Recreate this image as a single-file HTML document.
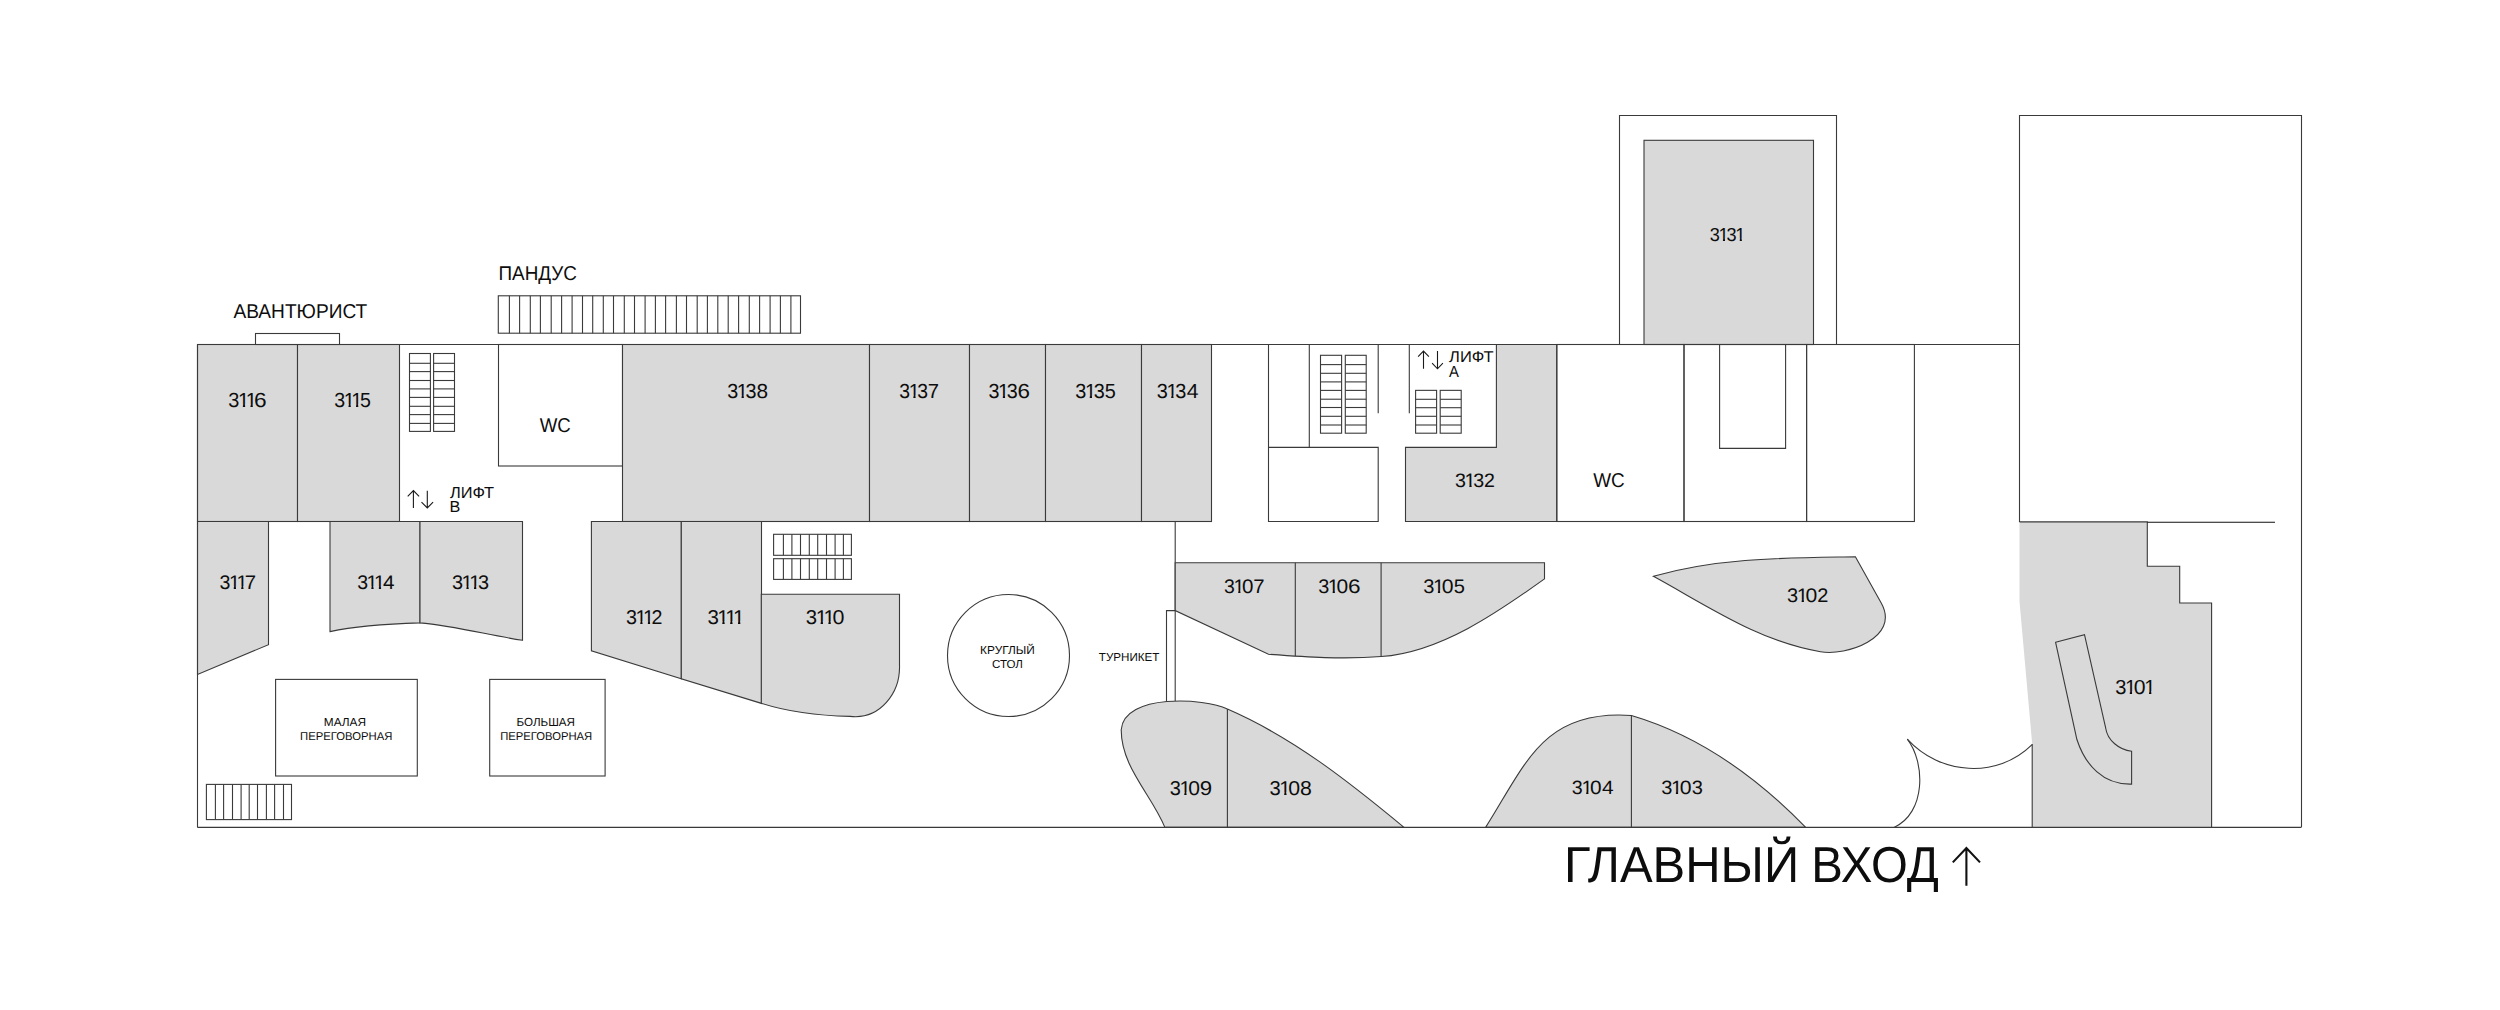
<!DOCTYPE html>
<html><head><meta charset="utf-8"><title>План этажа</title>
<style>html,body{margin:0;padding:0;background:#fff;}svg{display:block;}</style></head>
<body><svg width="2500" height="1010" viewBox="0 0 2500 1010">
<rect width="2500" height="1010" fill="#fff"/>
<defs><clipPath id="c3116_1" clipPathUnits="userSpaceOnUse"><path d="M-5,-40 L20,-40 L20,-2.502 L7.215,-2.502 L7.215,5 L4.903,5 L4.903,-2.502 L-5,-2.502 Z"/></clipPath><clipPath id="c3116_2" clipPathUnits="userSpaceOnUse"><path d="M-5,-40 L20,-40 L20,-2.502 L7.215,-2.502 L7.215,5 L4.903,5 L4.903,-2.502 L-5,-2.502 Z"/></clipPath><clipPath id="c3115_1" clipPathUnits="userSpaceOnUse"><path d="M-5,-40 L20,-40 L20,-2.502 L7.215,-2.502 L7.215,5 L4.903,5 L4.903,-2.502 L-5,-2.502 Z"/></clipPath><clipPath id="c3115_2" clipPathUnits="userSpaceOnUse"><path d="M-5,-40 L20,-40 L20,-2.502 L7.215,-2.502 L7.215,5 L4.903,5 L4.903,-2.502 L-5,-2.502 Z"/></clipPath><clipPath id="c3138_1" clipPathUnits="userSpaceOnUse"><path d="M-5,-40 L20,-40 L20,-2.484 L7.164,-2.484 L7.164,5 L4.869,5 L4.869,-2.484 L-5,-2.484 Z"/></clipPath><clipPath id="c3137_1" clipPathUnits="userSpaceOnUse"><path d="M-5,-40 L20,-40 L20,-2.484 L7.164,-2.484 L7.164,5 L4.869,5 L4.869,-2.484 L-5,-2.484 Z"/></clipPath><clipPath id="c3136_1" clipPathUnits="userSpaceOnUse"><path d="M-5,-40 L20,-40 L20,-2.484 L7.164,-2.484 L7.164,5 L4.869,5 L4.869,-2.484 L-5,-2.484 Z"/></clipPath><clipPath id="c3135_1" clipPathUnits="userSpaceOnUse"><path d="M-5,-40 L20,-40 L20,-2.484 L7.164,-2.484 L7.164,5 L4.869,5 L4.869,-2.484 L-5,-2.484 Z"/></clipPath><clipPath id="c3134_1" clipPathUnits="userSpaceOnUse"><path d="M-5,-40 L20,-40 L20,-2.484 L7.164,-2.484 L7.164,5 L4.869,5 L4.869,-2.484 L-5,-2.484 Z"/></clipPath><clipPath id="c3131_1" clipPathUnits="userSpaceOnUse"><path d="M-5,-40 L20,-40 L20,-2.289 L6.601,-2.289 L6.601,5 L4.486,5 L4.486,-2.289 L-5,-2.289 Z"/></clipPath><clipPath id="c3131_3" clipPathUnits="userSpaceOnUse"><path d="M-5,-40 L20,-40 L20,-2.289 L6.601,-2.289 L6.601,5 L4.486,5 L4.486,-2.289 L-5,-2.289 Z"/></clipPath><clipPath id="c3132_1" clipPathUnits="userSpaceOnUse"><path d="M-5,-40 L20,-40 L20,-2.378 L6.857,-2.378 L6.857,5 L4.660,5 L4.660,-2.378 L-5,-2.378 Z"/></clipPath><clipPath id="c3117_1" clipPathUnits="userSpaceOnUse"><path d="M-5,-40 L20,-40 L20,-2.413 L6.959,-2.413 L6.959,5 L4.730,5 L4.730,-2.413 L-5,-2.413 Z"/></clipPath><clipPath id="c3117_2" clipPathUnits="userSpaceOnUse"><path d="M-5,-40 L20,-40 L20,-2.413 L6.959,-2.413 L6.959,5 L4.730,5 L4.730,-2.413 L-5,-2.413 Z"/></clipPath><clipPath id="c3114_1" clipPathUnits="userSpaceOnUse"><path d="M-5,-40 L20,-40 L20,-2.413 L6.959,-2.413 L6.959,5 L4.730,5 L4.730,-2.413 L-5,-2.413 Z"/></clipPath><clipPath id="c3114_2" clipPathUnits="userSpaceOnUse"><path d="M-5,-40 L20,-40 L20,-2.413 L6.959,-2.413 L6.959,5 L4.730,5 L4.730,-2.413 L-5,-2.413 Z"/></clipPath><clipPath id="c3113_1" clipPathUnits="userSpaceOnUse"><path d="M-5,-40 L20,-40 L20,-2.413 L6.959,-2.413 L6.959,5 L4.730,5 L4.730,-2.413 L-5,-2.413 Z"/></clipPath><clipPath id="c3113_2" clipPathUnits="userSpaceOnUse"><path d="M-5,-40 L20,-40 L20,-2.413 L6.959,-2.413 L6.959,5 L4.730,5 L4.730,-2.413 L-5,-2.413 Z"/></clipPath><clipPath id="c3112_1" clipPathUnits="userSpaceOnUse"><path d="M-5,-40 L20,-40 L20,-2.431 L7.010,-2.431 L7.010,5 L4.764,5 L4.764,-2.431 L-5,-2.431 Z"/></clipPath><clipPath id="c3112_2" clipPathUnits="userSpaceOnUse"><path d="M-5,-40 L20,-40 L20,-2.431 L7.010,-2.431 L7.010,5 L4.764,5 L4.764,-2.431 L-5,-2.431 Z"/></clipPath><clipPath id="c3111_1" clipPathUnits="userSpaceOnUse"><path d="M-5,-40 L20,-40 L20,-2.431 L7.010,-2.431 L7.010,5 L4.764,5 L4.764,-2.431 L-5,-2.431 Z"/></clipPath><clipPath id="c3111_2" clipPathUnits="userSpaceOnUse"><path d="M-5,-40 L20,-40 L20,-2.431 L7.010,-2.431 L7.010,5 L4.764,5 L4.764,-2.431 L-5,-2.431 Z"/></clipPath><clipPath id="c3111_3" clipPathUnits="userSpaceOnUse"><path d="M-5,-40 L20,-40 L20,-2.431 L7.010,-2.431 L7.010,5 L4.764,5 L4.764,-2.431 L-5,-2.431 Z"/></clipPath><clipPath id="c3110_1" clipPathUnits="userSpaceOnUse"><path d="M-5,-40 L20,-40 L20,-2.431 L7.010,-2.431 L7.010,5 L4.764,5 L4.764,-2.431 L-5,-2.431 Z"/></clipPath><clipPath id="c3110_2" clipPathUnits="userSpaceOnUse"><path d="M-5,-40 L20,-40 L20,-2.431 L7.010,-2.431 L7.010,5 L4.764,5 L4.764,-2.431 L-5,-2.431 Z"/></clipPath><clipPath id="c3107_1" clipPathUnits="userSpaceOnUse"><path d="M-5,-40 L20,-40 L20,-2.395 L6.908,-2.395 L6.908,5 L4.695,5 L4.695,-2.395 L-5,-2.395 Z"/></clipPath><clipPath id="c3106_1" clipPathUnits="userSpaceOnUse"><path d="M-5,-40 L20,-40 L20,-2.395 L6.908,-2.395 L6.908,5 L4.695,5 L4.695,-2.395 L-5,-2.395 Z"/></clipPath><clipPath id="c3105_1" clipPathUnits="userSpaceOnUse"><path d="M-5,-40 L20,-40 L20,-2.395 L6.908,-2.395 L6.908,5 L4.695,5 L4.695,-2.395 L-5,-2.395 Z"/></clipPath><clipPath id="c3102_1" clipPathUnits="userSpaceOnUse"><path d="M-5,-40 L20,-40 L20,-2.395 L6.908,-2.395 L6.908,5 L4.695,5 L4.695,-2.395 L-5,-2.395 Z"/></clipPath><clipPath id="c3101_1" clipPathUnits="userSpaceOnUse"><path d="M-5,-40 L20,-40 L20,-2.466 L7.113,-2.466 L7.113,5 L4.834,5 L4.834,-2.466 L-5,-2.466 Z"/></clipPath><clipPath id="c3101_3" clipPathUnits="userSpaceOnUse"><path d="M-5,-40 L20,-40 L20,-2.466 L7.113,-2.466 L7.113,5 L4.834,5 L4.834,-2.466 L-5,-2.466 Z"/></clipPath><clipPath id="c3109_1" clipPathUnits="userSpaceOnUse"><path d="M-5,-40 L20,-40 L20,-2.449 L7.062,-2.449 L7.062,5 L4.799,5 L4.799,-2.449 L-5,-2.449 Z"/></clipPath><clipPath id="c3108_1" clipPathUnits="userSpaceOnUse"><path d="M-5,-40 L20,-40 L20,-2.449 L7.062,-2.449 L7.062,5 L4.799,5 L4.799,-2.449 L-5,-2.449 Z"/></clipPath><clipPath id="c3104_1" clipPathUnits="userSpaceOnUse"><path d="M-5,-40 L20,-40 L20,-2.342 L6.755,-2.342 L6.755,5 L4.590,5 L4.590,-2.342 L-5,-2.342 Z"/></clipPath><clipPath id="c3103_1" clipPathUnits="userSpaceOnUse"><path d="M-5,-40 L20,-40 L20,-2.342 L6.755,-2.342 L6.755,5 L4.590,5 L4.590,-2.342 L-5,-2.342 Z"/></clipPath></defs>
<g stroke="#3a3a3a" stroke-width="1.1" fill="none">
<path d="M2019.5,521.9 L2019.5,115.5 L2301.5,115.5 L2301.5,827" fill="none"/>
<path d="M1619.5,344.5 L1619.5,115.5 L1836.5,115.5 L1836.5,344.5" fill="none"/>
<rect x="1644" y="140.3" width="169.5" height="204.2" fill="#d9d9d9"/>
<rect x="197.5" y="344.5" width="100" height="177" fill="#d9d9d9"/>
<rect x="297.5" y="344.5" width="102" height="177" fill="#d9d9d9"/>
<rect x="255.5" y="333.5" width="84" height="11" fill="#fff"/>
<rect x="409.5" y="353.5" width="20.9" height="77.9" fill="#fff"/>
<line x1="409.5" y1="363.3" x2="430.4" y2="363.3"/>
<line x1="409.5" y1="371.6" x2="430.4" y2="371.6"/>
<line x1="409.5" y1="380.5" x2="430.4" y2="380.5"/>
<line x1="409.5" y1="388.9" x2="430.4" y2="388.9"/>
<line x1="409.5" y1="397.4" x2="430.4" y2="397.4"/>
<line x1="409.5" y1="406.3" x2="430.4" y2="406.3"/>
<line x1="409.5" y1="414.6" x2="430.4" y2="414.6"/>
<line x1="409.5" y1="423.4" x2="430.4" y2="423.4"/>
<rect x="433.6" y="353.5" width="20.9" height="77.9" fill="#fff"/>
<line x1="433.6" y1="363.3" x2="454.5" y2="363.3"/>
<line x1="433.6" y1="371.6" x2="454.5" y2="371.6"/>
<line x1="433.6" y1="380.5" x2="454.5" y2="380.5"/>
<line x1="433.6" y1="388.9" x2="454.5" y2="388.9"/>
<line x1="433.6" y1="397.4" x2="454.5" y2="397.4"/>
<line x1="433.6" y1="406.3" x2="454.5" y2="406.3"/>
<line x1="433.6" y1="414.6" x2="454.5" y2="414.6"/>
<line x1="433.6" y1="423.4" x2="454.5" y2="423.4"/>
<rect x="498.5" y="344.5" width="124" height="121.5" fill="none"/>
<rect x="498.3" y="295.8" width="302.2" height="37.4" fill="#fff"/>
<line x1="509.4" y1="295.8" x2="509.4" y2="333.2"/>
<line x1="519.6" y1="295.8" x2="519.6" y2="333.2"/>
<line x1="530.3" y1="295.8" x2="530.3" y2="333.2"/>
<line x1="540.4" y1="295.8" x2="540.4" y2="333.2"/>
<line x1="551.2" y1="295.8" x2="551.2" y2="333.2"/>
<line x1="561.6" y1="295.8" x2="561.6" y2="333.2"/>
<line x1="572.1" y1="295.8" x2="572.1" y2="333.2"/>
<line x1="582.5" y1="295.8" x2="582.5" y2="333.2"/>
<line x1="592.7" y1="295.8" x2="592.7" y2="333.2"/>
<line x1="603.3" y1="295.8" x2="603.3" y2="333.2"/>
<line x1="613.5" y1="295.8" x2="613.5" y2="333.2"/>
<line x1="624.3" y1="295.8" x2="624.3" y2="333.2"/>
<line x1="634.5" y1="295.8" x2="634.5" y2="333.2"/>
<line x1="645.1" y1="295.8" x2="645.1" y2="333.2"/>
<line x1="655.4" y1="295.8" x2="655.4" y2="333.2"/>
<line x1="665.6" y1="295.8" x2="665.6" y2="333.2"/>
<line x1="676.4" y1="295.8" x2="676.4" y2="333.2"/>
<line x1="686.5" y1="295.8" x2="686.5" y2="333.2"/>
<line x1="697.2" y1="295.8" x2="697.2" y2="333.2"/>
<line x1="707.4" y1="295.8" x2="707.4" y2="333.2"/>
<line x1="717.8" y1="295.8" x2="717.8" y2="333.2"/>
<line x1="728.2" y1="295.8" x2="728.2" y2="333.2"/>
<line x1="738.6" y1="295.8" x2="738.6" y2="333.2"/>
<line x1="749.3" y1="295.8" x2="749.3" y2="333.2"/>
<line x1="759.6" y1="295.8" x2="759.6" y2="333.2"/>
<line x1="770.1" y1="295.8" x2="770.1" y2="333.2"/>
<line x1="780.4" y1="295.8" x2="780.4" y2="333.2"/>
<line x1="790.9" y1="295.8" x2="790.9" y2="333.2"/>
<rect x="622.5" y="344.5" width="247" height="177" fill="#d9d9d9"/>
<rect x="869.5" y="344.5" width="100" height="177" fill="#d9d9d9"/>
<rect x="969.5" y="344.5" width="76" height="177" fill="#d9d9d9"/>
<rect x="1045.5" y="344.5" width="96" height="177" fill="#d9d9d9"/>
<rect x="1141.5" y="344.5" width="70" height="177" fill="#d9d9d9"/>
<path d="M1268.5,344.5 L1268.5,521.5 L1378.2,521.5 L1378.2,447.4 L1268.5,447.4" fill="none"/>
<line x1="1309.3" y1="344.5" x2="1309.3" y2="447.4"/>
<line x1="1378.2" y1="344.5" x2="1378.2" y2="413.2"/>
<line x1="1409.3" y1="344.5" x2="1409.3" y2="413.2"/>
<rect x="1320.5" y="355.3" width="21.1" height="77.9" fill="#fff"/>
<line x1="1320.5" y1="364.6" x2="1341.6" y2="364.6"/>
<line x1="1320.5" y1="373.3" x2="1341.6" y2="373.3"/>
<line x1="1320.5" y1="381.9" x2="1341.6" y2="381.9"/>
<line x1="1320.5" y1="390.4" x2="1341.6" y2="390.4"/>
<line x1="1320.5" y1="399.2" x2="1341.6" y2="399.2"/>
<line x1="1320.5" y1="407.5" x2="1341.6" y2="407.5"/>
<line x1="1320.5" y1="416.3" x2="1341.6" y2="416.3"/>
<line x1="1320.5" y1="425" x2="1341.6" y2="425"/>
<rect x="1345.3" y="355.3" width="20.9" height="77.9" fill="#fff"/>
<line x1="1345.3" y1="364.6" x2="1366.2" y2="364.6"/>
<line x1="1345.3" y1="373.3" x2="1366.2" y2="373.3"/>
<line x1="1345.3" y1="381.9" x2="1366.2" y2="381.9"/>
<line x1="1345.3" y1="390.4" x2="1366.2" y2="390.4"/>
<line x1="1345.3" y1="399.2" x2="1366.2" y2="399.2"/>
<line x1="1345.3" y1="407.5" x2="1366.2" y2="407.5"/>
<line x1="1345.3" y1="416.3" x2="1366.2" y2="416.3"/>
<line x1="1345.3" y1="425" x2="1366.2" y2="425"/>
<polygon points="1496.4,344.5 1556.8,344.5 1556.8,521.5 1405.5,521.5 1405.5,447.4 1496.4,447.4" fill="#d9d9d9"/>
<rect x="1415.6" y="390.35" width="21" height="42.85" fill="#fff"/>
<line x1="1415.6" y1="399.3" x2="1436.6" y2="399.3"/>
<line x1="1415.6" y1="407.7" x2="1436.6" y2="407.7"/>
<line x1="1415.6" y1="416.3" x2="1436.6" y2="416.3"/>
<line x1="1415.6" y1="425" x2="1436.6" y2="425"/>
<rect x="1440.2" y="390.35" width="21" height="42.85" fill="#fff"/>
<line x1="1440.2" y1="399.3" x2="1461.2" y2="399.3"/>
<line x1="1440.2" y1="407.7" x2="1461.2" y2="407.7"/>
<line x1="1440.2" y1="416.3" x2="1461.2" y2="416.3"/>
<line x1="1440.2" y1="425" x2="1461.2" y2="425"/>
<rect x="1556.8" y="344.5" width="127.2" height="177" fill="none"/>
<rect x="1684" y="344.5" width="122.6" height="177" fill="none"/>
<rect x="1806.6" y="344.5" width="107.8" height="177" fill="none"/>
<path d="M1719.6,344.5 L1719.6,448.4 L1785.6,448.4 L1785.6,344.5" fill="none"/>
<polygon points="197.5,521.5 268.5,521.5 268.5,644.7 197.5,674.4" fill="#d9d9d9"/>
<path d="M330,521.5 L420,521.5 L420,622.9 C389.91,623.74 359.53,625.13 330.00,631.60 Z" fill="#d9d9d9"/>
<path d="M420,521.5 L522.5,521.5 L522.5,640.3 C488.23,635.03 454.60,625.94 420.00,622.90 Z" fill="#d9d9d9"/>
<rect x="275.6" y="679.4" width="141.7" height="96.6" fill="#fff"/>
<rect x="489.7" y="679.4" width="115.4" height="96.6" fill="#fff"/>
<rect x="206.4" y="784.4" width="85.1" height="35.2" fill="#fff"/>
<line x1="215.4" y1="784.4" x2="215.4" y2="819.6"/>
<line x1="223.6" y1="784.4" x2="223.6" y2="819.6"/>
<line x1="232.5" y1="784.4" x2="232.5" y2="819.6"/>
<line x1="241.1" y1="784.4" x2="241.1" y2="819.6"/>
<line x1="249.2" y1="784.4" x2="249.2" y2="819.6"/>
<line x1="257.5" y1="784.4" x2="257.5" y2="819.6"/>
<line x1="266.4" y1="784.4" x2="266.4" y2="819.6"/>
<line x1="274.6" y1="784.4" x2="274.6" y2="819.6"/>
<line x1="283.5" y1="784.4" x2="283.5" y2="819.6"/>
<polygon points="591.4,521.5 681.3,521.5 681.3,678.8 591.4,650.8" fill="#d9d9d9"/>
<polygon points="681.3,521.5 761.5,521.5 761.5,703.4 681.3,678.8" fill="#d9d9d9"/>
<path d="M761.3,594.3 L899.5,594.3 L899.5,665 C900.50,692.89 880.06,719.90 850.00,716.40 C820.06,715.70 789.93,712.56 761.30,703.30 Z" fill="#d9d9d9"/>
<rect x="773.6" y="534.3" width="77.8" height="21" fill="#fff"/>
<line x1="783.4" y1="534.3" x2="783.4" y2="555.3"/>
<line x1="791.9" y1="534.3" x2="791.9" y2="555.3"/>
<line x1="800.5" y1="534.3" x2="800.5" y2="555.3"/>
<line x1="809.3" y1="534.3" x2="809.3" y2="555.3"/>
<line x1="817.7" y1="534.3" x2="817.7" y2="555.3"/>
<line x1="826.5" y1="534.3" x2="826.5" y2="555.3"/>
<line x1="835.1" y1="534.3" x2="835.1" y2="555.3"/>
<line x1="843.4" y1="534.3" x2="843.4" y2="555.3"/>
<rect x="773.6" y="558.7" width="77.8" height="20.7" fill="#fff"/>
<line x1="783.4" y1="558.7" x2="783.4" y2="579.4"/>
<line x1="791.9" y1="558.7" x2="791.9" y2="579.4"/>
<line x1="800.5" y1="558.7" x2="800.5" y2="579.4"/>
<line x1="809.3" y1="558.7" x2="809.3" y2="579.4"/>
<line x1="817.7" y1="558.7" x2="817.7" y2="579.4"/>
<line x1="826.5" y1="558.7" x2="826.5" y2="579.4"/>
<line x1="835.1" y1="558.7" x2="835.1" y2="579.4"/>
<line x1="843.4" y1="558.7" x2="843.4" y2="579.4"/>
<circle cx="1008.5" cy="655.5" r="61" fill="#fff"/>
<line x1="1175.2" y1="521.5" x2="1175.2" y2="701.5"/>
<path d="M1166.5,702 L1166.5,610.6 L1175.2,610.6" fill="none"/>
<path d="M1175.2,562.8 L1544.5,562.8 L1544.5,578.9 C1498.08,612.14 1440.09,652.51 1381.30,656.50 C1343.68,659.63 1306.10,657.04 1268.50,654.30 L1175.2,610.6 Z" fill="#d9d9d9"/>
<line x1="1295.3" y1="562.8" x2="1295.3" y2="656.1"/>
<line x1="1381.1" y1="562.8" x2="1381.1" y2="656.6"/>
<path d="M1653.4,576.3 C1718.68,557.38 1787.93,557.91 1855.40,556.70 L1881.5,603.5 C1900.27,638.15 1845.77,656.33 1820.50,651.70 C1758.91,641.55 1707.05,605.49 1653.40,576.30 Z" fill="#d9d9d9"/>
<path d="M1164.9,827.4 C1151.58,794.75 1121.16,766.98 1121.20,729.70 C1124.25,693.38 1204.65,697.82 1227.40,709.10  C1292.92,737.38 1349.47,782.22 1404.00,827.40 Z" fill="#d9d9d9"/>
<line x1="1227.4" y1="709.1" x2="1227.4" y2="827.4"/>
<path d="M1485.6,827.4 C1525.84,763.93 1542.84,709.29 1631.40,715.50 C1698.08,735.14 1757.55,777.94 1805.70,827.40 Z" fill="#d9d9d9"/>
<line x1="1631.4" y1="715.5" x2="1631.4" y2="827.4"/>
<path d="M2019.5,521.9 L2147.3,521.9 L2147.3,566.3 L2179.7,566.3 L2179.7,603 L2211.6,603 L2211.6,827 L2032.2,827 L2032.2,743.9 L2019.5,601.6 Z" fill="#d9d9d9" stroke="none"/>
<path d="M2019.5,521.9 L2147.3,521.9 L2147.3,566.3 L2179.7,566.3 L2179.7,603 L2211.6,603 L2211.6,827 M2032.2,827 L2032.2,743.9" fill="none"/>
<line x1="2147.3" y1="522.2" x2="2275" y2="522.2" stroke="#111"/>
<path d="M2055.6,642.3 L2084.5,634.6 L2105.6,727.7 C2107.35,740.55 2119.29,749.86 2131.60,751.30 L2131.6,784.1 C2103.10,784.94 2085.21,764.92 2076.90,739.50 Z" fill="none"/>
<path d="M2032.1,744.6 C1996.8,779.4 1939.9,774.9 1907.3,739.1" fill="none"/>
<path d="M1907.3,739.1 C1925.6,762.8 1925.9,813.1 1894.0,827.4" fill="none"/>
<line x1="197.5" y1="344.5" x2="2019.5" y2="344.5"/>
<line x1="197.5" y1="344.5" x2="197.5" y2="827.4"/>
<line x1="197.5" y1="827.4" x2="2301.5" y2="827.4"/>
<line x1="197.5" y1="521.5" x2="522.5" y2="521.5"/>
<line x1="591.4" y1="521.5" x2="1211.5" y2="521.5"/>
</g>
<path d="M413.4,507.9 L413.4,490.6 M407.7,496.3 L413.4,490.6 L419.1,496.3" stroke="#1a1a1a" stroke-width="1.1" fill="none"/>
<path d="M427.3,490.8 L427.3,507.9 M421.5,502.2 L427.3,507.9 L433.1,502.2" stroke="#1a1a1a" stroke-width="1.1" fill="none"/>
<path d="M1423.5,368.8 L1423.5,351.1 M1418.1,356.7 L1423.5,351.1 L1428.9,356.7" stroke="#1a1a1a" stroke-width="1.1" fill="none"/>
<path d="M1437.5,351.1 L1437.5,368.8 M1432.1,363.2 L1437.5,368.8 L1442.9,363.2" stroke="#1a1a1a" stroke-width="1.1" fill="none"/>
<path d="M1966.4,885.8 L1966.4,848 M1952.8,862.4 L1966.4,848 L1980,862.4" stroke="#111" stroke-width="2.1" fill="none"/>
<g font-family="Liberation Sans, sans-serif" fill="#0d0d0d" text-rendering="geometricPrecision">
<g><text transform="translate(228.34,407.00) scale(0.9727,1)" font-size="20.49">3</text><text transform="translate(238.01,407.00) scale(0.9867,1)" font-size="20.49" clip-path="url(#c3116_1)">1</text><text transform="translate(245.66,407.00) scale(0.9867,1)" font-size="20.49" clip-path="url(#c3116_2)">1</text><text transform="translate(254.09,407.00) scale(1.1058,1)" font-size="20.49">6</text></g>
<g><text transform="translate(334.25,407.00) scale(0.9565,1)" font-size="20.49">3</text><text transform="translate(343.77,407.00) scale(0.9702,1)" font-size="20.49" clip-path="url(#c3115_1)">1</text><text transform="translate(351.28,407.00) scale(0.9702,1)" font-size="20.49" clip-path="url(#c3115_2)">1</text><text transform="translate(359.92,407.00) scale(0.9565,1)" font-size="20.49">5</text></g>
<g><text transform="translate(727.15,397.90) scale(0.9718,1)" font-size="20.35">3</text><text transform="translate(736.74,397.90) scale(0.9858,1)" font-size="20.35" clip-path="url(#c3138_1)">1</text><text transform="translate(745.50,397.90) scale(0.9718,1)" font-size="20.35">3</text><text transform="translate(756.42,397.90) scale(1.0237,1)" font-size="20.35">8</text></g>
<g><text transform="translate(899.26,397.90) scale(0.9518,1)" font-size="20.35">3</text><text transform="translate(908.66,397.90) scale(0.9654,1)" font-size="20.35" clip-path="url(#c3137_1)">1</text><text transform="translate(917.24,397.90) scale(0.9518,1)" font-size="20.35">3</text><text transform="translate(927.78,397.90) scale(0.9926,1)" font-size="20.35">7</text></g>
<g><text transform="translate(988.45,397.90) scale(0.9694,1)" font-size="20.35">3</text><text transform="translate(998.02,397.90) scale(0.9833,1)" font-size="20.35" clip-path="url(#c3136_1)">1</text><text transform="translate(1006.76,397.90) scale(0.9694,1)" font-size="20.35">3</text><text transform="translate(1017.41,397.90) scale(1.1021,1)" font-size="20.35">6</text></g>
<g><text transform="translate(1075.24,397.90) scale(0.9768,1)" font-size="20.35">3</text><text transform="translate(1084.89,397.90) scale(0.9908,1)" font-size="20.35" clip-path="url(#c3135_1)">1</text><text transform="translate(1093.69,397.90) scale(0.9768,1)" font-size="20.35">3</text><text transform="translate(1104.78,397.90) scale(0.9768,1)" font-size="20.35">5</text></g>
<g><text transform="translate(1156.74,397.90) scale(0.9792,1)" font-size="20.35">3</text><text transform="translate(1166.41,397.90) scale(0.9932,1)" font-size="20.35" clip-path="url(#c3134_1)">1</text><text transform="translate(1175.23,397.90) scale(0.9792,1)" font-size="20.35">3</text><text transform="translate(1186.66,397.90) scale(1.0389,1)" font-size="20.35">4</text></g>
<g><text transform="translate(1709.71,240.80) scale(0.9675,1)" font-size="18.75">3</text><text transform="translate(1718.51,240.80) scale(0.9813,1)" font-size="18.75" clip-path="url(#c3131_1)">1</text><text transform="translate(1726.54,240.80) scale(0.9675,1)" font-size="18.75">3</text><text transform="translate(1735.35,240.80) scale(0.9813,1)" font-size="18.75" clip-path="url(#c3131_3)">1</text></g>
<g><text transform="translate(1455.05,487.40) scale(1.0100,1)" font-size="19.48">3</text><text transform="translate(1464.60,487.40) scale(1.0245,1)" font-size="19.48" clip-path="url(#c3132_1)">1</text><text transform="translate(1473.31,487.40) scale(1.0100,1)" font-size="19.48">3</text><text transform="translate(1484.08,487.40) scale(1.0064,1)" font-size="19.48">2</text></g>
<g><text transform="translate(219.45,588.60) scale(0.9916,1)" font-size="19.77">3</text><text transform="translate(228.97,588.60) scale(1.0058,1)" font-size="19.77" clip-path="url(#c3117_1)">1</text><text transform="translate(236.48,588.60) scale(1.0058,1)" font-size="19.77" clip-path="url(#c3117_2)">1</text><text transform="translate(244.86,588.60) scale(1.0342,1)" font-size="19.77">7</text></g>
<g><text transform="translate(357.16,588.60) scale(0.9865,1)" font-size="19.77">3</text><text transform="translate(366.62,588.60) scale(1.0007,1)" font-size="19.77" clip-path="url(#c3114_1)">1</text><text transform="translate(374.10,588.60) scale(1.0007,1)" font-size="19.77" clip-path="url(#c3114_2)">1</text><text transform="translate(383.00,588.60) scale(1.0467,1)" font-size="19.77">4</text></g>
<g><text transform="translate(451.94,588.60) scale(1.0058,1)" font-size="19.77">3</text><text transform="translate(461.59,588.60) scale(1.0202,1)" font-size="19.77" clip-path="url(#c3113_1)">1</text><text transform="translate(469.21,588.60) scale(1.0202,1)" font-size="19.77" clip-path="url(#c3113_2)">1</text><text transform="translate(478.02,588.60) scale(1.0058,1)" font-size="19.77">3</text></g>
<g><text transform="translate(625.95,623.70) scale(0.9899,1)" font-size="19.91">3</text><text transform="translate(635.51,623.70) scale(1.0041,1)" font-size="19.91" clip-path="url(#c3112_1)">1</text><text transform="translate(643.07,623.70) scale(1.0041,1)" font-size="19.91" clip-path="url(#c3112_2)">1</text><text transform="translate(651.56,623.70) scale(0.9864,1)" font-size="19.91">2</text></g>
<g><text transform="translate(707.42,623.70) scale(1.0279,1)" font-size="19.91">3</text><text transform="translate(717.35,623.70) scale(1.0426,1)" font-size="19.91" clip-path="url(#c3111_1)">1</text><text transform="translate(725.20,623.70) scale(1.0426,1)" font-size="19.91" clip-path="url(#c3111_2)">1</text><text transform="translate(733.04,623.70) scale(1.0426,1)" font-size="19.91" clip-path="url(#c3111_3)">1</text></g>
<g><text transform="translate(805.83,623.70) scale(1.0205,1)" font-size="19.91">3</text><text transform="translate(815.69,623.70) scale(1.0352,1)" font-size="19.91" clip-path="url(#c3110_1)">1</text><text transform="translate(823.48,623.70) scale(1.0352,1)" font-size="19.91" clip-path="url(#c3110_2)">1</text><text transform="translate(832.41,623.70) scale(1.0768,1)" font-size="19.91">0</text></g>
<g><text transform="translate(1224.06,593.00) scale(0.9925,1)" font-size="19.62">3</text><text transform="translate(1233.51,593.00) scale(1.0067,1)" font-size="19.62" clip-path="url(#c3107_1)">1</text><text transform="translate(1242.07,593.00) scale(1.0472,1)" font-size="19.62">0</text><text transform="translate(1253.33,593.00) scale(1.0351,1)" font-size="19.62">7</text></g>
<g><text transform="translate(1318.14,593.00) scale(1.0129,1)" font-size="19.62">3</text><text transform="translate(1327.79,593.00) scale(1.0274,1)" font-size="19.62" clip-path="url(#c3106_1)">1</text><text transform="translate(1336.53,593.00) scale(1.0687,1)" font-size="19.62">0</text><text transform="translate(1347.93,593.00) scale(1.1515,1)" font-size="19.62">6</text></g>
<g><text transform="translate(1423.24,593.00) scale(1.0232,1)" font-size="19.62">3</text><text transform="translate(1432.98,593.00) scale(1.0379,1)" font-size="19.62" clip-path="url(#c3105_1)">1</text><text transform="translate(1441.81,593.00) scale(1.0796,1)" font-size="19.62">0</text><text transform="translate(1453.68,593.00) scale(1.0232,1)" font-size="19.62">5</text></g>
<g><text transform="translate(1787.04,601.80) scale(1.0207,1)" font-size="19.62">3</text><text transform="translate(1796.76,601.80) scale(1.0354,1)" font-size="19.62" clip-path="url(#c3102_1)">1</text><text transform="translate(1805.56,601.80) scale(1.0770,1)" font-size="19.62">0</text><text transform="translate(1817.20,601.80) scale(1.0171,1)" font-size="19.62">2</text></g>
<g><text transform="translate(2115.13,693.80) scale(0.9954,1)" font-size="20.20">3</text><text transform="translate(2124.89,693.80) scale(1.0097,1)" font-size="20.20" clip-path="url(#c3101_1)">1</text><text transform="translate(2133.74,693.80) scale(1.0503,1)" font-size="20.20">0</text><text transform="translate(2144.17,693.80) scale(1.0097,1)" font-size="20.20" clip-path="url(#c3101_3)">1</text></g>
<g><text transform="translate(1169.74,794.70) scale(0.9958,1)" font-size="20.06">3</text><text transform="translate(1179.43,794.70) scale(1.0101,1)" font-size="20.06" clip-path="url(#c3109_1)">1</text><text transform="translate(1188.21,794.70) scale(1.0507,1)" font-size="20.06">0</text><text transform="translate(1199.78,794.70) scale(1.1091,1)" font-size="20.06">9</text></g>
<g><text transform="translate(1269.53,794.70) scale(1.0058,1)" font-size="20.06">3</text><text transform="translate(1279.32,794.70) scale(1.0202,1)" font-size="20.06" clip-path="url(#c3108_1)">1</text><text transform="translate(1288.19,794.70) scale(1.0612,1)" font-size="20.06">0</text><text transform="translate(1300.00,794.70) scale(1.0595,1)" font-size="20.06">8</text></g>
<g><text transform="translate(1571.85,794.30) scale(1.0283,1)" font-size="19.19">3</text><text transform="translate(1581.42,794.30) scale(1.0430,1)" font-size="19.19" clip-path="url(#c3104_1)">1</text><text transform="translate(1590.10,794.30) scale(1.0850,1)" font-size="19.19">0</text><text transform="translate(1602.07,794.30) scale(1.0910,1)" font-size="19.19">4</text></g>
<g><text transform="translate(1661.24,794.30) scale(1.0464,1)" font-size="19.19">3</text><text transform="translate(1670.98,794.30) scale(1.0614,1)" font-size="19.19" clip-path="url(#c3103_1)">1</text><text transform="translate(1679.81,794.30) scale(1.1041,1)" font-size="19.19">0</text><text transform="translate(1691.72,794.30) scale(1.0464,1)" font-size="19.19">3</text></g>
<text transform="translate(539.75,431.60) scale(0.9369,1)" font-size="19.91">WC</text>
<text transform="translate(1593.20,487.25) scale(0.9477,1)" font-size="19.99">WC</text>
<text transform="translate(233.50,318.40) scale(0.9538,1)" font-size="20.06">АВАНТЮРИСТ</text>
<text transform="translate(498.48,279.60) scale(0.9491,1)" font-size="19.91">ПАНДУС</text>
<text transform="translate(450.00,497.80) scale(1.0367,1)" font-size="15.84">ЛИФТ</text>
<text transform="translate(449.62,512.40) scale(1.0235,1)" font-size="15.84">В</text>
<text transform="translate(1449.10,361.90) scale(1.0515,1)" font-size="15.70">ЛИФТ</text>
<text transform="translate(1449.10,376.70) scale(0.9209,1)" font-size="16.13">А</text>
<text transform="translate(323.77,725.90) scale(1.0333,1)" font-size="11.48">МАЛАЯ</text>
<text transform="translate(300.11,739.90) scale(0.9896,1)" font-size="11.41">ПЕРЕГОВОРНАЯ</text>
<text transform="translate(516.51,725.90) scale(0.9869,1)" font-size="11.77">БОЛЬШАЯ</text>
<text transform="translate(500.21,739.90) scale(0.9863,1)" font-size="11.41">ПЕРЕГОВОРНАЯ</text>
<text transform="translate(980.06,653.80) scale(1.0353,1)" font-size="11.48">КРУГЛЫЙ</text>
<text transform="translate(992.00,668.00) scale(1.0000,1)" font-size="11.56">СТОЛ</text>
<text transform="translate(1098.85,661.00) scale(1.0000,1)" font-size="11.63">ТУРНИКЕТ</text>
<text transform="translate(1563.99,881.90) scale(0.9711,1)" font-size="50.44">ГЛАВНЫЙ</text>
<text transform="translate(1811.34,881.90) scale(0.9392,1)" font-size="50.44">ВХОД</text>
</g>
</svg></body></html>
